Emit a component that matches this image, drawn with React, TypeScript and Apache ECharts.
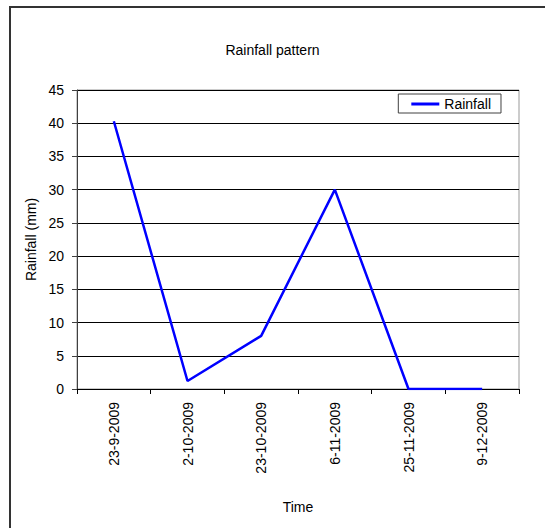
import React, { useEffect, useRef } from "react";
import * as echarts from "echarts";

const dates = ["23-9-2009", "2-10-2009", "23-10-2009", "6-11-2009", "25-11-2009", "9-12-2009"];
const rainfall = [40.3, 1.2, 8, 30, 0, 0];
const seriesName = "Rainfall";
const chartTitle = "Rainfall pattern";
const xAxisName = "Time";
const yAxisName = "Rainfall (mm)";

const FONT = "'Liberation Sans', Arial, sans-serif";

export default function App() {
  const ref = useRef<HTMLDivElement>(null);

  useEffect(() => {
    document.body.style.margin = "0";
    if (!ref.current) return;
    const chart = echarts.init(ref.current, null, { renderer: "svg" });
    chart.setOption({
      animation: false,
      backgroundColor: "#ffffff",
      textStyle: { fontFamily: FONT, color: "#000" },
      title: {
        text: chartTitle,
        left: "center",
        top: 38,
        textStyle: { fontFamily: FONT, fontSize: 14, fontWeight: "normal", color: "#000" },
      },
      legend: {
        right: 44,
        top: 94,
        data: [{ name: seriesName, icon: "rect" }],
        orient: "horizontal",
        borderColor: "#404040",
        borderWidth: 1,
        padding: [3, 10, 2, 13],
        itemWidth: 28,
        itemHeight: 3,
        itemGap: 5,
        itemStyle: { color: "#0000ff", borderWidth: 0 },
        textStyle: { fontFamily: FONT, fontSize: 14, color: "#000" },
      },
      graphic: [
        {
          type: "rect",
          shape: { x: 10, y: 7, width: 560, height: 560 },
          style: { fill: "none", stroke: "#333", lineWidth: 2 },
          silent: true,
          z: -1,
        },
      ],
      grid: {
        left: 77,
        right: 26,
        top: 90,
        bottom: 139,
        show: true,
        borderColor: "#999",
        borderWidth: 1,
        backgroundColor: "transparent",
      },
      xAxis: {
        type: "category",
        data: dates,
        boundaryGap: true,
        name: xAxisName,
        nameLocation: "middle",
        nameGap: 111,
        nameTextStyle: { fontFamily: FONT, fontSize: 14, color: "#000", verticalAlign: "top" },
        axisLine: { show: true, lineStyle: { color: "#000", width: 1 } },
        axisTick: { show: true, length: 5, lineStyle: { color: "#000" } },
        axisLabel: {
          rotate: 90,
          margin: 13,
          fontFamily: FONT,
          fontSize: 14,
          color: "#000",
          interval: 0,
        },
        splitLine: { show: false },
      },
      yAxis: {
        type: "value",
        min: 0,
        max: 45,
        interval: 5,
        name: yAxisName,
        nameLocation: "middle",
        nameGap: 34,
        nameTextStyle: { fontFamily: FONT, fontSize: 14, color: "#000" },
        axisLine: { show: true, lineStyle: { color: "#404040", width: 1 } },
        axisTick: { show: true, length: 5, lineStyle: { color: "#404040" } },
        axisLabel: { margin: 13, fontFamily: FONT, fontSize: 14, color: "#000" },
        splitLine: { show: true, lineStyle: { color: "#000", width: 1 } },
      },
      series: [
        {
          name: seriesName,
          type: "line",
          data: rainfall,
          showSymbol: false,
          symbol: "none",
          lineStyle: { color: "#0000ff", width: 2.5 },
          itemStyle: { color: "#0000ff" },
        },
      ],
    });
    return () => chart.dispose();
  }, []);

  return <div ref={ref} style={{ width: 545, height: 528 }} />;
}
